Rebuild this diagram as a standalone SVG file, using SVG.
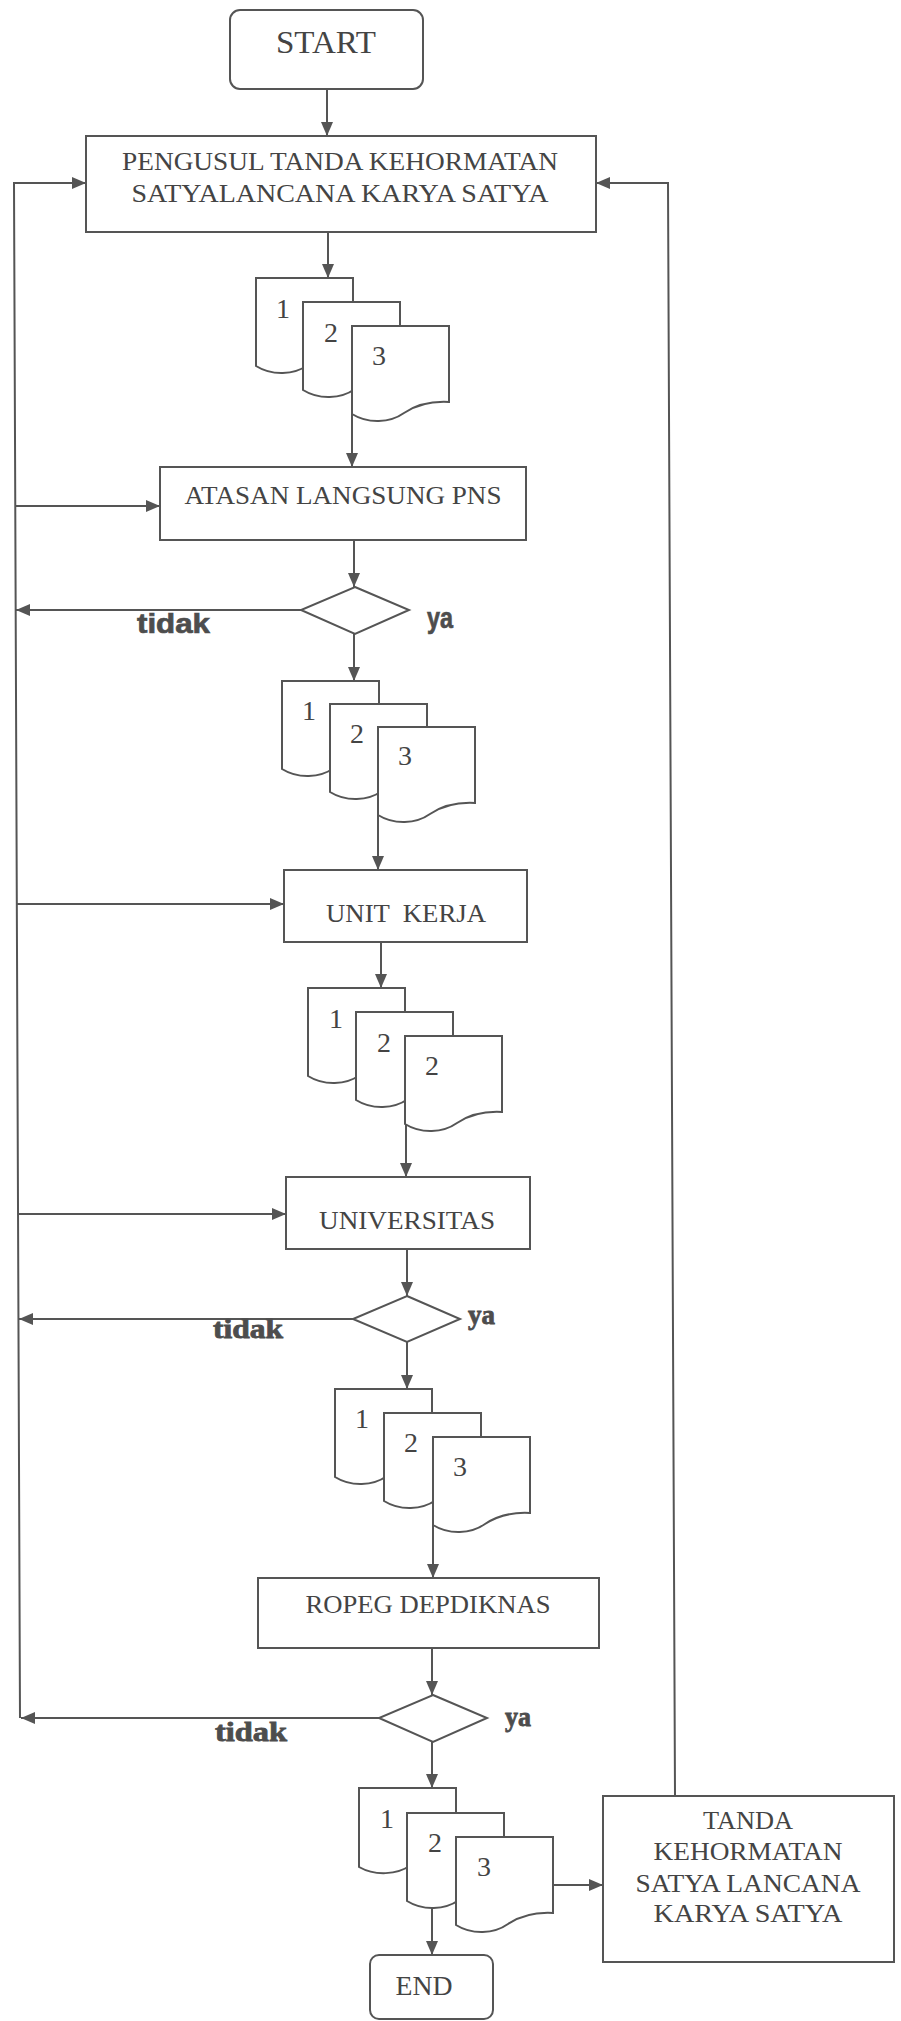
<svg xmlns="http://www.w3.org/2000/svg" xmlns:xlink="http://www.w3.org/1999/xlink" width="901" height="2021" viewBox="0 0 901 2021">
<style>
  .box{fill:#fff;stroke:#555;stroke-width:2}
  .doc{fill:#fff;stroke:#555;stroke-width:2}
  .ln{fill:none;stroke:#555;stroke-width:2}
  .t{font-family:"Liberation Serif","Times New Roman",serif;font-size:26px;fill:#444;text-anchor:middle}
  .n{font-family:"Liberation Serif","Times New Roman",serif;font-size:28px;fill:#444;text-anchor:middle}
  .yn{font-family:"Liberation Sans",Arial,sans-serif;font-weight:bold;fill:#4d4d4d;stroke:#4d4d4d;stroke-width:0.7}
  .ys{font-family:"Liberation Serif","Times New Roman",serif;font-weight:bold;fill:#4d4d4d;stroke:#4d4d4d;stroke-width:0.8}
</style>
<defs>
  <marker id="ah" viewBox="0 0 14 12" refX="14" refY="6" markerWidth="14" markerHeight="12" markerUnits="userSpaceOnUse" orient="auto">
    <path d="M0,0 L14,6 L0,12 Z" fill="#555"/>
  </marker>
  <path id="doc" d="M0,0 H97 V76 C78,75 64,79 52,87 C38,97 16,98 0,88 Z"/>
  <path id="docs" d="M0,0 H97 V67 C78,66 64,70 52,77 C38,87 16,88 0,79 Z"/>
</defs>
<rect width="901" height="2021" fill="#fff"/>

<g id="connectors">
  <path class="ln" d="M327,89 V136" marker-end="url(#ah)"/>
  <path class="ln" d="M328,232 V278" marker-end="url(#ah)"/>
  <path class="ln" d="M352,414 V467" marker-end="url(#ah)"/>
  <path class="ln" d="M354,540 V587" marker-end="url(#ah)"/>
  <path class="ln" d="M354,634 V681" marker-end="url(#ah)"/>
  <path class="ln" d="M378,815 V870" marker-end="url(#ah)"/>
  <path class="ln" d="M381,942 V988" marker-end="url(#ah)"/>
  <path class="ln" d="M406,1123 V1177" marker-end="url(#ah)"/>
  <path class="ln" d="M407,1249 V1296" marker-end="url(#ah)"/>
  <path class="ln" d="M407,1342 V1389" marker-end="url(#ah)"/>
  <path class="ln" d="M433,1525 V1578" marker-end="url(#ah)"/>
  <path class="ln" d="M432,1648 V1695" marker-end="url(#ah)"/>
  <path class="ln" d="M432,1742 V1788" marker-end="url(#ah)"/>
  <path class="ln" d="M432,1907 V1955" marker-end="url(#ah)"/>
  <path class="ln" d="M553,1885 H603" marker-end="url(#ah)"/>
  <path class="ln" d="M20,1718 L14,183 H86" marker-end="url(#ah)"/>
  <path class="ln" d="M15,506 H160" marker-end="url(#ah)"/>
  <path class="ln" d="M17,904 H284" marker-end="url(#ah)"/>
  <path class="ln" d="M18,1214 H286" marker-end="url(#ah)"/>
  <path class="ln" d="M301,610 H16" marker-end="url(#ah)"/>
  <path class="ln" d="M353,1319 H19" marker-end="url(#ah)"/>
  <path class="ln" d="M379,1718 H21" marker-end="url(#ah)"/>
  <path class="ln" d="M675,1796 L668,183 H596" marker-end="url(#ah)"/>
</g>

<g id="start">
  <rect class="box" x="230" y="10" width="193" height="79" rx="10"/>
  <text class="t" x="326" y="53" style="font-size:32px" textLength="100" lengthAdjust="spacingAndGlyphs">START</text>
</g>

<g id="pengusul">
  <rect class="box" x="86" y="136" width="510" height="96"/>
  <text class="t" x="340" y="170" textLength="436" lengthAdjust="spacingAndGlyphs">PENGUSUL TANDA KEHORMATAN</text>
  <text class="t" x="340" y="202" textLength="417" lengthAdjust="spacingAndGlyphs">SATYALANCANA KARYA SATYA</text>
</g>

<g id="docs1">
  <use href="#doc" class="doc" x="256" y="278"/>
  <use href="#doc" class="doc" x="303" y="302"/>
  <use href="#doc" class="doc" x="352" y="326"/>
  <text class="n" x="283" y="318">1</text>
  <text class="n" x="331" y="342">2</text>
  <text class="n" x="379" y="365">3</text>
</g>

<g id="atasan">
  <rect class="box" x="160" y="467" width="366" height="73"/>
  <text class="t" x="343" y="504" textLength="317" lengthAdjust="spacingAndGlyphs">ATASAN LANGSUNG PNS</text>
</g>

<g id="decision1">
  <polygon class="box" points="355,587 409,610 355,634 301,610"/>
  <text class="yn" x="137" y="633" style="font-size:27px" textLength="73" lengthAdjust="spacingAndGlyphs">tidak</text>
  <text class="yn" x="427" y="628" style="font-size:30px" textLength="26" lengthAdjust="spacingAndGlyphs">ya</text>
</g>

<g id="docs2">
  <use href="#doc" class="doc" x="282" y="681"/>
  <use href="#doc" class="doc" x="330" y="704"/>
  <use href="#doc" class="doc" x="378" y="727"/>
  <text class="n" x="309" y="720">1</text>
  <text class="n" x="357" y="743">2</text>
  <text class="n" x="405" y="765">3</text>
</g>

<g id="unitkerja">
  <rect class="box" x="284" y="870" width="243" height="72"/>
  <text class="t" x="406" y="922" xml:space="preserve" textLength="160" lengthAdjust="spacingAndGlyphs">UNIT  KERJA</text>
</g>

<g id="docs3">
  <use href="#doc" class="doc" x="308" y="988"/>
  <use href="#doc" class="doc" x="356" y="1012"/>
  <use href="#doc" class="doc" x="405" y="1036"/>
  <text class="n" x="336" y="1028">1</text>
  <text class="n" x="384" y="1052">2</text>
  <text class="n" x="432" y="1075">2</text>
</g>

<g id="universitas">
  <rect class="box" x="286" y="1177" width="244" height="72"/>
  <text class="t" x="407" y="1229" textLength="176" lengthAdjust="spacingAndGlyphs">UNIVERSITAS</text>
</g>

<g id="decision2">
  <polygon class="box" points="407,1296 460,1319 407,1342 353,1319"/>
  <text class="ys" x="213" y="1338" style="font-size:27px" textLength="70" lengthAdjust="spacingAndGlyphs">tidak</text>
  <text class="ys" x="468" y="1324" style="font-size:28px" textLength="27" lengthAdjust="spacingAndGlyphs">ya</text>
</g>

<g id="docs4">
  <use href="#doc" class="doc" x="335" y="1389"/>
  <use href="#doc" class="doc" x="384" y="1413"/>
  <use href="#doc" class="doc" x="433" y="1437"/>
  <text class="n" x="362" y="1428">1</text>
  <text class="n" x="411" y="1452">2</text>
  <text class="n" x="460" y="1476">3</text>
</g>

<g id="ropeg">
  <rect class="box" x="258" y="1578" width="341" height="70"/>
  <text class="t" x="428" y="1613" textLength="245" lengthAdjust="spacingAndGlyphs">ROPEG DEPDIKNAS</text>
</g>

<g id="decision3">
  <polygon class="box" points="433,1695 487,1718 433,1742 379,1718"/>
  <text class="ys" x="215" y="1741" style="font-size:27px" textLength="72" lengthAdjust="spacingAndGlyphs">tidak</text>
  <text class="ys" x="505" y="1726" style="font-size:28px" textLength="26" lengthAdjust="spacingAndGlyphs">ya</text>
</g>

<g id="docs5">
  <use href="#docs" class="doc" x="359" y="1788"/>
  <use href="#doc" class="doc" x="407" y="1813"/>
  <use href="#doc" class="doc" x="456" y="1837"/>
  <text class="n" x="387" y="1828">1</text>
  <text class="n" x="435" y="1852">2</text>
  <text class="n" x="484" y="1876">3</text>
</g>

<g id="tanda">
  <rect class="box" x="603" y="1796" width="291" height="166"/>
  <text class="t" x="748" y="1829" textLength="90" lengthAdjust="spacingAndGlyphs">TANDA</text>
  <text class="t" x="748" y="1860" textLength="189" lengthAdjust="spacingAndGlyphs">KEHORMATAN</text>
  <text class="t" x="748" y="1892" textLength="225" lengthAdjust="spacingAndGlyphs">SATYA LANCANA</text>
  <text class="t" x="748" y="1922" textLength="189" lengthAdjust="spacingAndGlyphs">KARYA SATYA</text>
</g>

<g id="end">
  <rect class="box" x="370" y="1955" width="123" height="64" rx="9"/>
  <text class="t" x="424" y="1995" style="font-size:28px" textLength="57" lengthAdjust="spacingAndGlyphs">END</text>
</g>
</svg>
